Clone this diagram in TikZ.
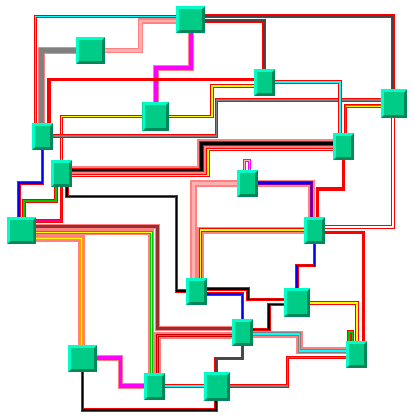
\documentclass[tikz,border=0pt]{standalone}
\usetikzlibrary{backgrounds}
\definecolor{boxmain}{RGB}{0,204,136}
\definecolor{boxlite}{RGB}{0,255,200}
\definecolor{boxdark}{RGB}{0,136,90}
\definecolor{halo}{RGB}{255,128,128}
\definecolor{halolite}{RGB}{255,176,176}
\definecolor{dgray}{RGB}{70,70,70}
\definecolor{mgray}{RGB}{128,128,128}
\definecolor{brick}{RGB}{150,48,48}
\definecolor{violet}{RGB}{128,0,160}
\definecolor{deeppink}{RGB}{255,0,128}
\definecolor{fuchsia}{RGB}{255,0,255}
\definecolor{aqua}{RGB}{0,255,255}
\definecolor{lemon}{RGB}{255,255,0}
\definecolor{leaf}{RGB}{0,200,0}
\definecolor{amber}{RGB}{255,160,0}
\begin{document}
\begin{tikzpicture}[x=1pt, y=-1pt,
  box/.style={rectangle, inner sep=0pt, minimum width=21pt, minimum height=27pt, fill=boxmain,
    path picture={
      \fill[boxdark] (path picture bounding box.south west) rectangle (path picture bounding box.north east);
      \fill[boxlite] (path picture bounding box.south west) -- (path picture bounding box.north west)
        -- (path picture bounding box.north east) -- ([shift={(-3pt,-3pt)}]path picture bounding box.north east)
        -- ([shift={(3pt,-3pt)}]path picture bounding box.north west) -- ([shift={(3pt,3pt)}]path picture bounding box.south west) -- cycle;
      \fill[boxmain] ([shift={(3pt,3pt)}]path picture bounding box.south west) rectangle ([shift={(-3pt,-3pt)}]path picture bounding box.north east);
    }},
  boxwide/.style={box, minimum width=29pt},
  boxtall/.style={box, minimum width=26.5pt, minimum height=29pt},
  cable/.style 2 args={draw=#1, line width=1pt, double=#2, double distance=1.6pt},
  glow/.style={preaction={draw=halo, line width=#1}}, glow/.default=7pt,
  band/.style={draw=halo, line width=1.2pt, double=#1, double distance=4pt},
  bar/.style={draw=#1, line width=3.6pt},
  lime/.style={postaction={draw=leaf, line width=0.8pt}}]
\useasboundingbox (0,0) rectangle (414,418);

\node[boxwide] (n1) at (190.5,19.5) {};
\node[boxwide] (n2) at (90.5,50.5) {};
\node[boxtall] (n3) at (155.5,116.5) {};
\node[box] (n4) at (42.5,136.5) {};
\node[box] (n5) at (264.5,82.5) {};
\node[boxtall] (n6) at (394,103.5) {};
\node[box] (n7) at (343.5,146.5) {};
\node[box] (n8) at (61.5,173.5) {};
\node[box] (n9) at (247.5,183.5) {};
\node[boxwide] (n10) at (21.5,230.5) {};
\node[box] (n11) at (314.5,230.5) {};
\node[box] (n12) at (196.5,291.5) {};
\node[boxtall] (n13) at (297,302.5) {};
\node[box] (n14) at (242.5,332.5) {};
\node[box] (n15) at (356.5,354.5) {};
\node[boxwide] (n16) at (82.5,358.5) {};
\node[box] (n17) at (154.5,386.5) {};
\node[boxtall] (n18) at (217,386.5) {};

\begin{scope}[on background layer]
\draw[cable={red}{aqua}] (n1.west |- 0,16.5) -- (35.5,16.5) -- (35.5,0 |- n4.north);
\draw[cable={red}{dgray}, line width=0.8pt, double distance=2pt] (n1.east |- 0,16) -- (393,16) -- (393,0 |- n6.north);
\draw[cable={red}{dgray}, line width=1.2pt, double distance=1.2pt] (n1.east |- 0,21) -- (264,21) -- (264,0 |- n5.north);
\draw[band=fuchsia, line width=1pt] (n1.south) -- (190.5,67.5) -- (155.5,67.5) -- (n3.north);
\draw[cable={halo}{halolite}, line width=1.4pt, double distance=2.6pt] (n2.east) -- (140.5,50.5) -- (140.5,21) -- (n1.west |- 0,21);
\draw[band=mgray, line width=1.6pt, double distance=4.2pt] (n2.west) -- (41.5,50.5) -- (41.5,0 |- n4.north);
\draw[bar=red] (48.7,0 |- n4.north) -- (48.7,79.3) -- (n5.west |- 0,79.3);
\draw[cable={red}{lemon}] (n8.north) -- (61.5,116.3) -- (n3.west |- 0,116.3);
\draw[cable={red}{lemon}] (n3.east |- 0,116.3) -- (211.7,116.3) -- (211.7,85.7) -- (n5.west |- 0,85.7);
\draw[cable={red}{mgray}] (n4.east |- 0,136) -- (216.3,136) -- (216.3,100.2) -- (n6.west |- 0,100.2);
\draw[cable={red}{aqua}] (n5.east |- 0,82) -- (340.2,82) -- (340.2,0 |- n7.north);
\draw[cable={red}{lemon}, lime] (n6.west |- 0,105.8) -- (345.3,105.8) -- (345.3,0 |- n7.north);
\draw[cable={red}{white}] (393.2,0 |- n6.south) -- (393.2,227.2) -- (n11.east |- 0,227.2);
\draw[bar=red] (n7.south) -- (343.5,188.7) -- (317.3,188.7) -- (317.3,0 |- n11.north);
\draw[glow=9pt, cable={red}{black}, double distance=2.6pt] (n8.east |- 0,170) -- (201.7,170) -- (201.7,143.3) -- (n7.west |- 0,143.3);
\draw[cable={red}{lemon}] (n8.east |- 0,175.5) -- (207.7,175.5) -- (207.7,149.3) -- (n7.west |- 0,149.3);
\draw[cable={fuchsia}{halolite}] (244.3,0 |- n9.north) -- (244.3,160.6) -- (249.5,160.6) -- (249.5,0 |- n9.north);
\draw[cable={halo}{halolite}, line width=1.6pt, double distance=3.5pt] (n9.west |- 0,183.3) -- (193.3,183.3) -- (193.3,0 |- n12.north);
\draw[glow, cable={violet}{blue}] (n9.east |- 0,183) -- (311.3,183) -- (311.3,0 |- n11.north);
\draw[glow, cable={red}{lemon}] (n11.west |- 0,230) -- (200.5,230) -- (200.5,0 |- n12.north);
\draw[cable={red}{blue}] (n11.south) -- (314.5,265.3) -- (296.7,265.3) -- (296.7,0 |- n13.north);
\draw[bar=red] (n11.east |- 0,232.5) -- (363.3,232.5) -- (363.3,0 |- n15.north);
\draw[cable={red}{blue}] (n4.south) -- (42.5,182.8) -- (18.7,182.8) -- (18.7,0 |- n10.north);
\draw[cable={red}{leaf}] (55.8,0 |- n8.south) -- (55.8,201) -- (23.7,201) -- (23.7,0 |- n10.north);
\draw[cable={red}{deeppink}] (n8.south) -- (61.5,220.7) -- (n10.east |- 0,220.7);
\draw[cable={red}{black}] (66.7,0 |- n8.south) -- (66.7,196.3) -- (176.5,196.3) -- (176.5,291) -- (n12.west |- 0,291);
\draw[band=brick, line width=1.2pt, double distance=3pt] (n10.east |- 0,226.7) -- (157.2,226.7) -- (157.2,328.7) -- (n14.west |- 0,328.7);
\draw[glow=6pt, cable={leaf}{lemon}, line width=0.8pt, double distance=1.2pt] (n10.east |- 0,232.3) -- (151.2,232.3) -- (151.2,0 |- n17.north);
\draw[glow=6.5pt, cable={amber}{lemon}] (n10.east |- 0,238.3) -- (81.3,238.3) -- (81.3,0 |- n16.north);
\draw[glow, cable={red!80!black}{mgray}] (157.5,0 |- n17.north) -- (157.5,335.3) -- (n14.west |- 0,335.3);
\draw[glow, cable={mgray}{aqua}] (n14.east |- 0,334) -- (299.5,334) -- (299.5,350.8) -- (n15.west |- 0,350.8);
\draw[band=fuchsia, line width=1pt, double distance=3.5pt] (n16.east |- 0,358) -- (120.5,358) -- (120.5,386) -- (n17.west |- 0,386);
\draw[cable={red}{black}] (n16.south) -- (82.5,410) -- (216,410) -- (216,0 |- n18.south);
\draw[cable={red}{aqua}] (n17.east |- 0,386) -- (n18.west |- 0,386);
\draw[cable={red}{mgray}] (n18.east |- 0,386.2) -- (287.5,386.2) -- (287.5,357.5) -- (n15.west |- 0,357.5);
\draw[cable={red}{dgray}] (216,0 |- n18.north) -- (216,358.3) -- (242.5,358.3) -- (n14.south);
\draw[cable={red}{black}] (n12.east |- 0,288.7) -- (248,288.7) -- (248,299.5) -- (n13.west |- 0,299.5);
\draw[cable={red}{blue}] (n12.east |- 0,293.7) -- (242.5,293.7) -- (n14.north);
\draw[cable={red}{black}] (n14.east |- 0,329.5) -- (268.7,329.5) -- (268.7,304.3) -- (n13.west |- 0,304.3);
\draw[cable={red}{lemon}, double distance=2pt] (n13.east |- 0,302.8) -- (357,302.8) -- (357,0 |- n15.north);
\draw[cable={red}{leaf}] (349,0 |- n15.north) -- (349,332) -- (352.5,332) -- (352.5,0 |- n15.north);
\end{scope}
\end{tikzpicture}
\end{document}
